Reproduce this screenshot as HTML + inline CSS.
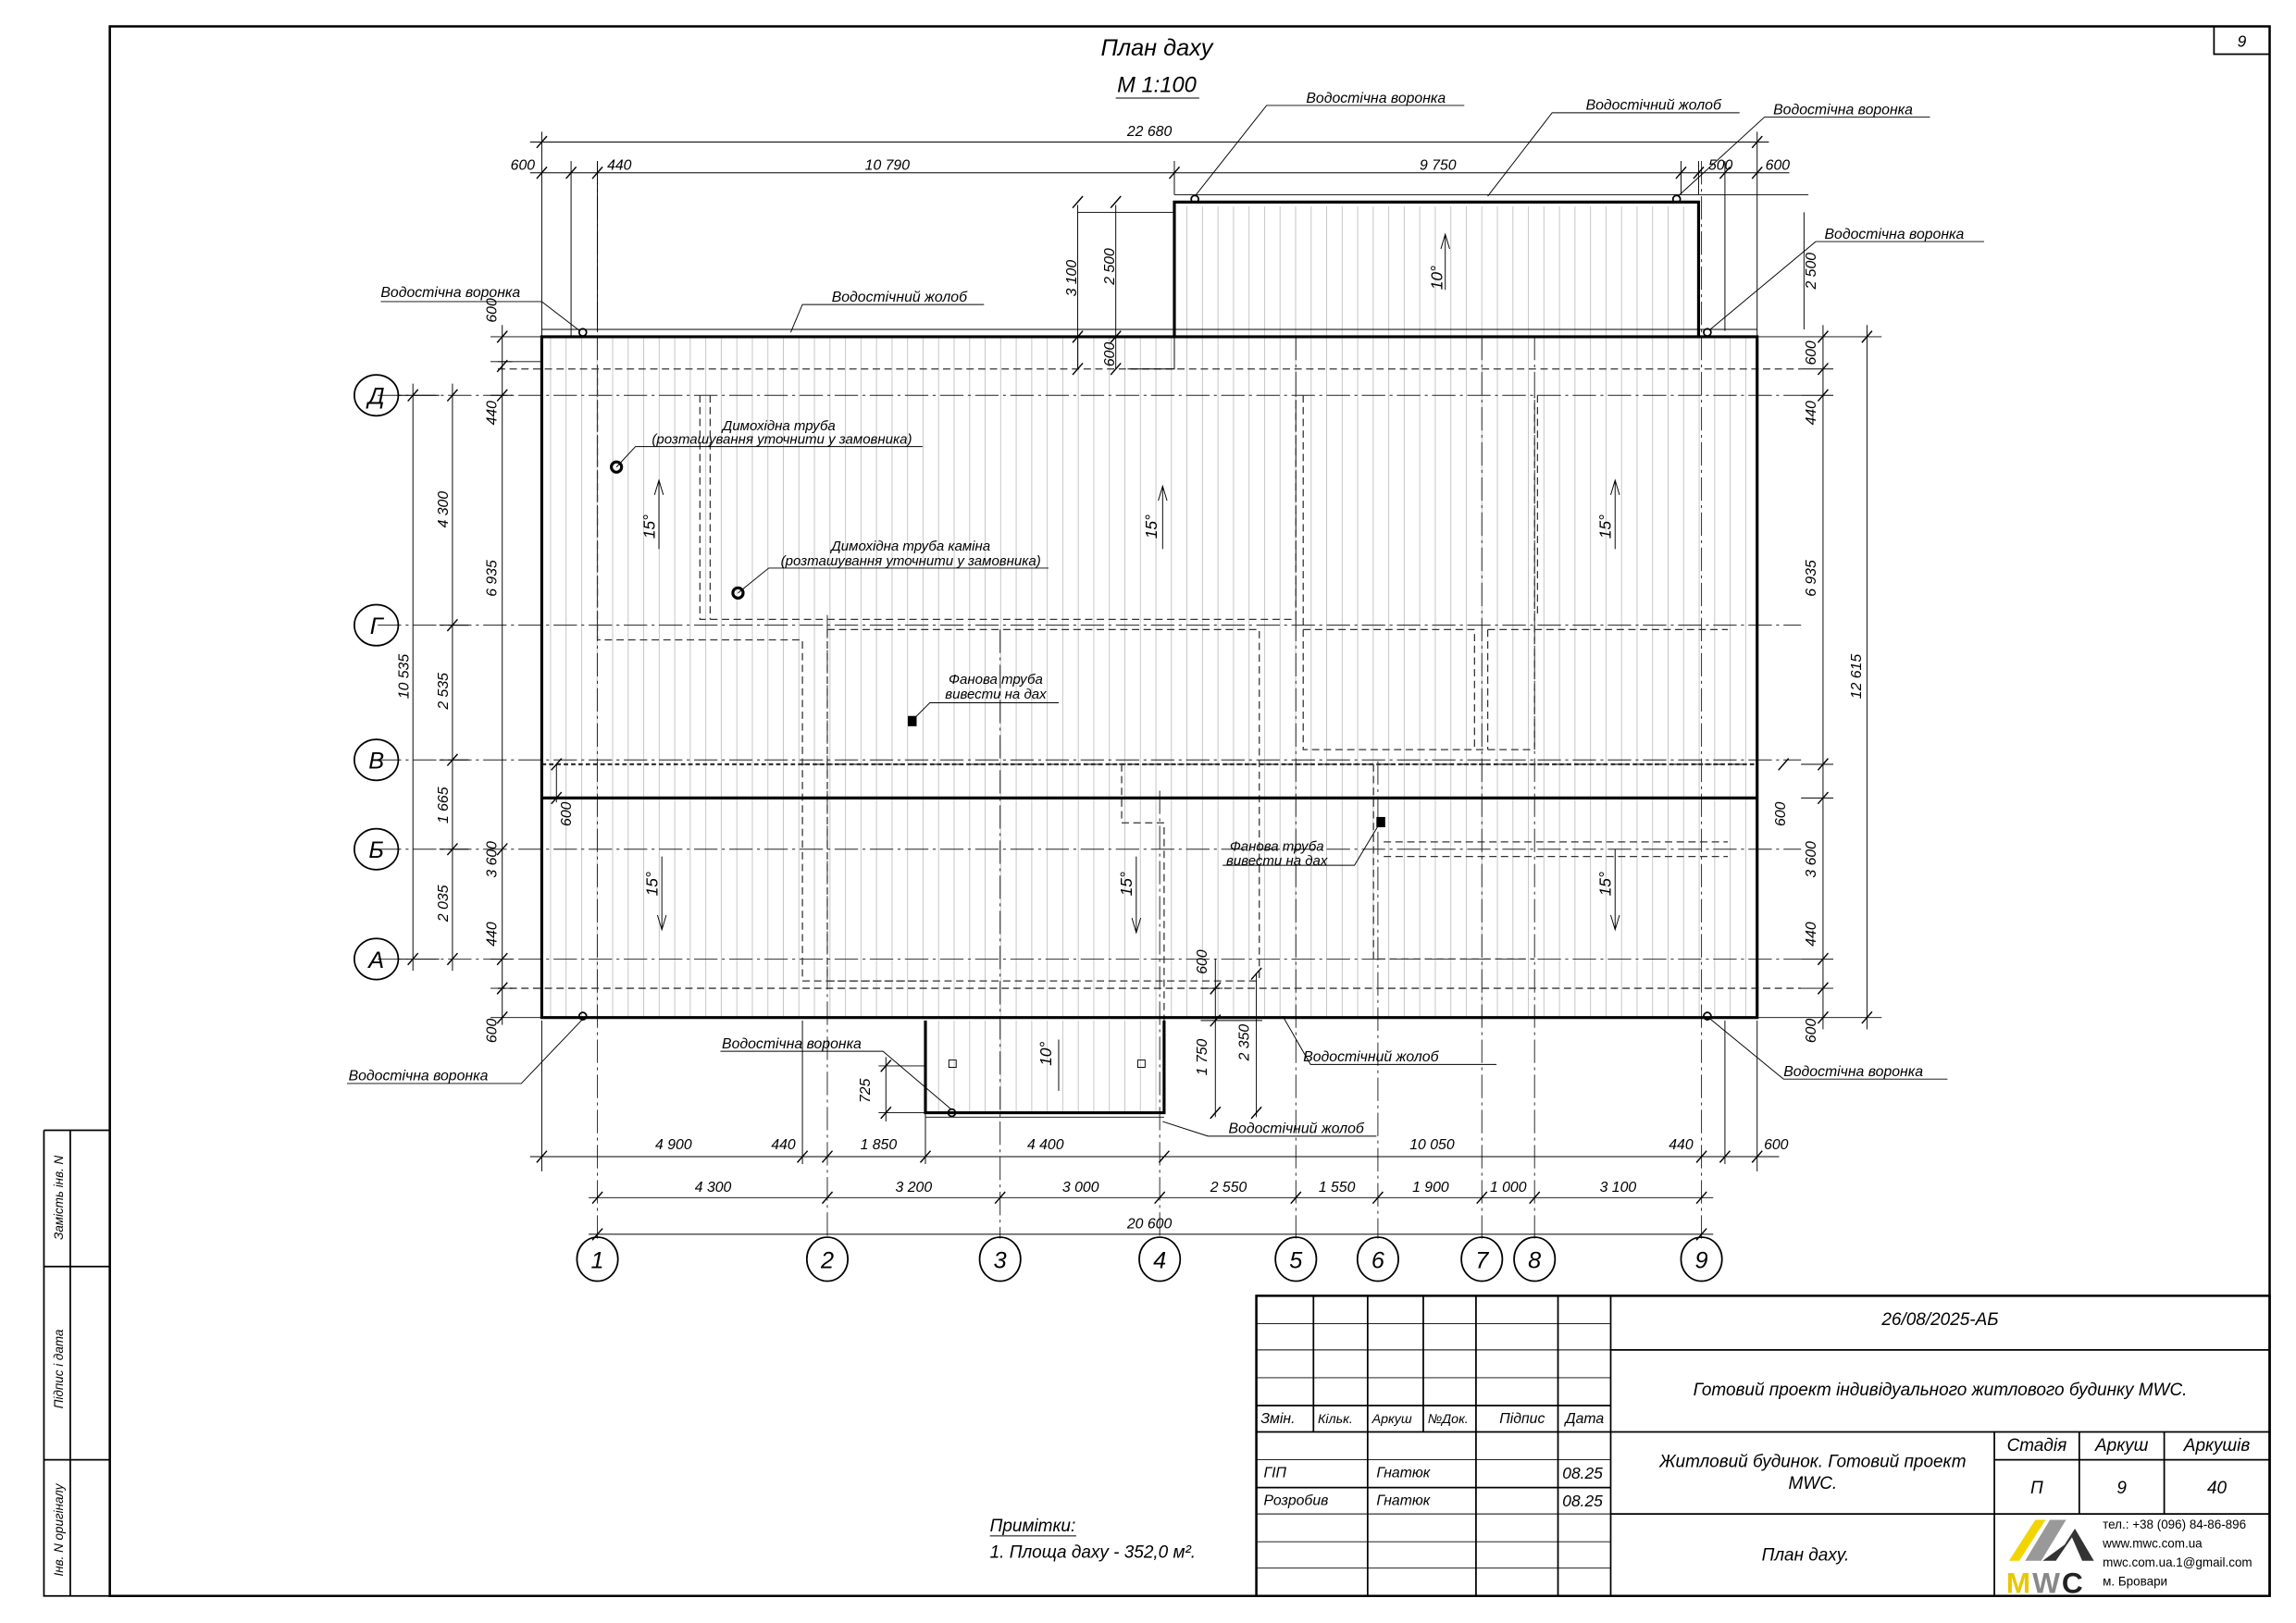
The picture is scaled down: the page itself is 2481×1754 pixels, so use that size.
<!DOCTYPE html>
<html><head><meta charset="utf-8"><style>
html,body{margin:0;padding:0;background:#fff}
svg{display:block}
text{font-family:"Liberation Sans",sans-serif;font-style:italic;fill:#000}
.t{stroke:#000;stroke-width:.6;fill:none}
.k{stroke:#000;stroke-width:2;fill:none}
.m{stroke:#000;stroke-width:1.1;fill:none}
.ax{stroke:#222;stroke-width:.6;fill:none;stroke-dasharray:16 3 2 3}
.d{stroke:#333;stroke-width:.8;fill:none;stroke-dasharray:5 3}
</style></head><body>
<svg width="2481" height="1754" viewBox="0 0 1568 1108.5" preserveAspectRatio="none" xmlns="http://www.w3.org/2000/svg">
<defs>
<pattern id="h" x="0" y="0" width="10.6" height="20" patternUnits="userSpaceOnUse"><line x1="5" y1="0" x2="5" y2="20" stroke="#c4c4c4" stroke-width=".6"/></pattern>
<path id="tk" d="M-3.5,4 L3.5,-4" stroke="#000" stroke-width=".9"/>
</defs>
<path class="k" d="M75,18 H1550 V1090 H75 Z" style="stroke-width:1.6"/>
<rect x="1512" y="18" width="38" height="19" class="m"/>
<text x="1531" y="32" font-size="11" text-anchor="middle">9</text>
<path class="m" d="M30,772 H75 M30,772 V1090 H75 M48,772 V1090 M30,865 H75 M30,997 H75"/>
<text transform="translate(43,818) rotate(-90)" font-size="8.5" text-anchor="middle">Замість інв. N</text>
<text transform="translate(43,935) rotate(-90)" font-size="8.5" text-anchor="middle">Підпис і дата</text>
<text transform="translate(43,1045) rotate(-90)" font-size="8.5" text-anchor="middle">Інв. N оригіналу</text>

<text x="790" y="38" font-size="16" text-anchor="middle">План даху</text>
<text x="790" y="63" font-size="15" text-anchor="middle">М 1:100</text>
<line class="t" x1="762" y1="67" x2="819" y2="67"/>

<rect x="371" y="231" width="828" height="463" fill="url(#h)"/>
<rect x="803" y="141" width="356" height="90" fill="url(#h)"/>
<rect x="633" y="697" width="161" height="62" fill="url(#h)"/>

<g class="ax">
<path d="M408,110 V846 M565,420 V846 M683,430 V846 M792,540 V846 M885,230 V846 M941,520 V846 M1012,230 V846 M1048,230 V846 M1162,110 V846"/>
<path d="M258,270 H1230 M258,427 H1230 M258,519 H1230 M258,580 H1230 M258,655 H1230"/>
</g>
<g class="d">
<path d="M340,252 H1230 M340,675 H1230"/>
<path d="M408,250 V437 H548 V670 H630 M478,270 V423 H885 V270 M485,270 V423"/>
<path d="M565,430 H860 V670 M565,430 V670 H860 M548,522 H1190"/>
<path d="M890,270 V512 H1048 V270 M1050,270 V420 M890,430 H1007 V512 M1016,430 H1180 M1016,430 V512"/>
<path d="M766,522 V562 H795 V697 M938,522 V655 H1048 M945,575 H1180 M945,585 H1180"/>
<path d="M370,522 H1200" style="stroke-dasharray:3 2;stroke-width:1.4"/>
</g>

<path class="k" d="M370,230 H1200 V695 H370 Z"/>
<path class="k" d="M370,545 H1200"/>
<path class="k" d="M802,230 V138 H1160 V230"/>
<path class="t" d="M802,133 H1160 M370,225 H1200 M340,247 H370 M770,252 H802 V230"/>
<path class="k" d="M632,697 V760 H795 V697"/>
<path class="t" d="M632,763 H795"/>
<g class="m" fill="#fff">
<circle cx="398" cy="227" r="2.5"/><circle cx="1166" cy="227" r="2.5"/><circle cx="816" cy="136" r="2.5"/><circle cx="1145" cy="136" r="2.5"/>
<circle cx="398" cy="694" r="2.5"/><circle cx="1166" cy="694" r="2.5"/><circle cx="650" cy="760" r="2.5"/>
</g>
<rect x="648" y="724" width="5" height="5" class="t"/><rect x="777" y="724" width="5" height="5" class="t"/>
<circle cx="421" cy="319" r="3.5" class="k"/><circle cx="504" cy="405" r="3.5" class="k"/>
<rect x="620" y="489" width="6" height="7" fill="#000"/><rect x="940" y="558" width="6" height="7" fill="#000"/>

<g class="t">
<path d="M450,375 V328 M447,338 L450,328 L453,338"/>
<path d="M794,375 V332 M791,342 L794,332 L797,342"/>
<path d="M1103,375 V328 M1100,338 L1103,328 L1106,338"/>
<path d="M452,585 V635 M449,625 L452,635 L455,625"/>
<path d="M776,585 V637 M773,627 L776,637 L779,627"/>
<path d="M1103,580 V635 M1100,625 L1103,635 L1106,625"/>
<path d="M987,198 V160 M984,170 L987,160 L990,170"/>
<path d="M723,745 V710"/>
</g>
<g font-size="11">
<text transform="translate(447,368) rotate(-90)">15°</text>
<text transform="translate(790,368) rotate(-90)">15°</text>
<text transform="translate(1100,368) rotate(-90)">15°</text>
<text transform="translate(449,612) rotate(-90)">15°</text>
<text transform="translate(773,612) rotate(-90)">15°</text>
<text transform="translate(1100,612) rotate(-90)">15°</text>
<text transform="translate(985,198) rotate(-90)">10°</text>
<text transform="translate(718,728) rotate(-90)">10°</text>
</g>

<g class="t">
<path d="M370,206 H260 M370,206 L396,226"/>
<path d="M540,227 L548,208 H672"/>
<path d="M816,134 L865,72 H1000"/>
<path d="M1016,134 L1060,77 H1188"/>
<path d="M1146,134 L1205,80 H1318"/>
<path d="M1168,225 L1240,165 H1355"/>
<path d="M398,696 L356,740 H237"/>
<path d="M650,758 L603,718 H492"/>
<path d="M1168,696 L1218,737 H1330"/>
<path d="M876,694 L895,727 H1022"/>
<path d="M794,766 L825,776 H940"/>
<path d="M421,319 L434,305 H630"/>
<path d="M504,405 L525,388 H716"/>
<path d="M623,492 L635,480 H723"/>
<path d="M943,561 L925,591 H835"/>
</g>
<g font-size="10">
<text x="260" y="203">Водостічна воронка</text>
<text x="568" y="206">Водостічний жолоб</text>
<text x="892" y="70">Водостічна воронка</text>
<text x="1083" y="75">Водостічний жолоб</text>
<text x="1211" y="78">Водостічна воронка</text>
<text x="1246" y="163">Водостічна воронка</text>
<text x="238" y="738">Водостічна воронка</text>
<text x="493" y="716">Водостічна воронка</text>
<text x="1218" y="735">Водостічна воронка</text>
<text x="890" y="725">Водостічний жолоб</text>
<text x="839" y="774">Водостічний жолоб</text>
<text x="532" y="294" font-size="9.5" text-anchor="middle">Димохідна труба</text>
<text x="534" y="303" font-size="9.5" text-anchor="middle">(розташування уточнити у замовника)</text>
<text x="622" y="376" font-size="9.5" text-anchor="middle">Димохідна труба каміна</text>
<text x="622" y="386" font-size="9.5" text-anchor="middle">(розташування уточнити у замовника)</text>
<text x="680" y="467" font-size="9.5" text-anchor="middle">Фанова труба</text>
<text x="680" y="477" font-size="9.5" text-anchor="middle">вивести на дах</text>
<text x="872" y="581" font-size="9.5" text-anchor="middle">Фанова труба</text>
<text x="872" y="591" font-size="9.5" text-anchor="middle">вивести на дах</text>
</g>

<g class="t">
<path d="M362,97 H1208 M362,118 H1222 M370,90 V230 M1200,90 V230 M390,110 V230 M408,110 V226 M802,110 V133 M1148,110 V133 M1160,110 V133 M1178,110 V226"/>
<path d="M736,145 H802 M736,140 V252 M762,140 V252 M733,230 H802"/>
<path d="M1235,133 H1160 M1232,145 V225"/>
</g>
<g>
<use href="#tk" x="370" y="97"/><use href="#tk" x="1200" y="97"/>
<use href="#tk" x="370" y="118"/><use href="#tk" x="390" y="118"/><use href="#tk" x="408" y="118"/><use href="#tk" x="802" y="118"/><use href="#tk" x="1148" y="118"/><use href="#tk" x="1160" y="118"/><use href="#tk" x="1178" y="118"/><use href="#tk" x="1200" y="118"/>
<use href="#tk" x="736" y="138"/><use href="#tk" x="736" y="230"/><use href="#tk" x="762" y="138"/><use href="#tk" x="762" y="230"/><use href="#tk" x="762" y="252"/><use href="#tk" x="736" y="252"/>
</g>
<g font-size="10" text-anchor="middle">
<text x="785" y="93">22 680</text>
<text x="357" y="116">600</text><text x="423" y="116">440</text><text x="606" y="116">10 790</text><text x="982" y="116">9 750</text><text x="1175" y="116">500</text><text x="1214" y="116">600</text>
<text transform="translate(735,190) rotate(-90)">3 100</text>
<text transform="translate(761,182) rotate(-90)">2 500</text>
<text transform="translate(761,242) rotate(-90)">600</text>
<text transform="translate(1240,185) rotate(-90)">2 500</text>
</g>

<g class="t">
<path d="M272,270 H300 M272,655 H300 M282,262 V663 M309,262 V663 M300,427 H320 M300,519 H320 M300,580 H320 M343,222 V700 M335,230 H370 M335,695 H370 M335,270 H350 M335,655 H350 M335,247 H350 M335,675 H350"/>
<path d="M380,522 V548 M370,545 H395"/>
</g>
<g>
<use href="#tk" x="282" y="270"/><use href="#tk" x="282" y="655"/>
<use href="#tk" x="309" y="270"/><use href="#tk" x="309" y="427"/><use href="#tk" x="309" y="519"/><use href="#tk" x="309" y="580"/><use href="#tk" x="309" y="655"/>
<use href="#tk" x="343" y="230"/><use href="#tk" x="343" y="250"/><use href="#tk" x="343" y="270"/><use href="#tk" x="343" y="580"/><use href="#tk" x="343" y="655"/><use href="#tk" x="343" y="675"/><use href="#tk" x="343" y="695"/>
<use href="#tk" x="380" y="522"/><use href="#tk" x="380" y="545"/>
</g>
<g font-size="10" text-anchor="middle">
<text transform="translate(279,462) rotate(-90)">10 535</text>
<text transform="translate(306,348) rotate(-90)">4 300</text>
<text transform="translate(306,472) rotate(-90)">2 535</text>
<text transform="translate(306,550) rotate(-90)">1 665</text>
<text transform="translate(306,617) rotate(-90)">2 035</text>
<text transform="translate(339,212) rotate(-90)">600</text>
<text transform="translate(339,282) rotate(-90)">440</text>
<text transform="translate(339,395) rotate(-90)">6 935</text>
<text transform="translate(339,587) rotate(-90)">3 600</text>
<text transform="translate(339,638) rotate(-90)">440</text>
<text transform="translate(339,704) rotate(-90)">600</text>
<text transform="translate(390,556) rotate(-90)">600</text>
</g>
<g class="t">
<path d="M1200,230 H1285 M1200,695 H1285 M1245,222 V703 M1275,222 V703 M1230,252 H1252 M1230,270 H1252 M1230,522 H1252 M1230,545 H1252 M1230,655 H1252 M1230,675 H1252"/>
</g>
<g>
<use href="#tk" x="1245" y="230"/><use href="#tk" x="1245" y="252"/><use href="#tk" x="1245" y="270"/><use href="#tk" x="1245" y="522"/><use href="#tk" x="1245" y="545"/><use href="#tk" x="1245" y="655"/><use href="#tk" x="1245" y="675"/><use href="#tk" x="1245" y="695"/>
<use href="#tk" x="1275" y="230"/><use href="#tk" x="1275" y="695"/>
<use href="#tk" x="1218" y="522"/>
</g>
<g font-size="10" text-anchor="middle">
<text transform="translate(1240,241) rotate(-90)">600</text>
<text transform="translate(1240,282) rotate(-90)">440</text>
<text transform="translate(1240,395) rotate(-90)">6 935</text>
<text transform="translate(1219,556) rotate(-90)">600</text>
<text transform="translate(1240,587) rotate(-90)">3 600</text>
<text transform="translate(1240,638) rotate(-90)">440</text>
<text transform="translate(1240,704) rotate(-90)">600</text>
<text transform="translate(1271,462) rotate(-90)">12 615</text>
<text transform="translate(824,657) rotate(-90)">600</text>
<text transform="translate(824,722) rotate(-90)">1 750</text>
<text transform="translate(853,712) rotate(-90)">2 350</text>
<text transform="translate(594,745) rotate(-90)">725</text>
</g>
<g class="t"><path d="M830,655 V763 M858,665 V763 M820,675 H835 M820,697 H862 M600,728 H632 M600,760 H632 M605,722 V766"/></g>
<g><use href="#tk" x="830" y="675"/><use href="#tk" x="830" y="697"/><use href="#tk" x="830" y="760"/><use href="#tk" x="858" y="665"/><use href="#tk" x="858" y="760"/><use href="#tk" x="605" y="728"/><use href="#tk" x="605" y="760"/></g>

<g class="t">
<path d="M362,790 H1215 M402,818 H1170 M402,843 H1170 M370,697 V800 M1200,697 V800 M548,697 V795 M632,760 V795 M1178,697 V795"/>
</g>
<g>
<use href="#tk" x="370" y="790"/><use href="#tk" x="548" y="790"/><use href="#tk" x="565" y="790"/><use href="#tk" x="632" y="790"/><use href="#tk" x="795" y="790"/><use href="#tk" x="1162" y="790"/><use href="#tk" x="1178" y="790"/><use href="#tk" x="1200" y="790"/>
<use href="#tk" x="408" y="818"/><use href="#tk" x="565" y="818"/><use href="#tk" x="683" y="818"/><use href="#tk" x="792" y="818"/><use href="#tk" x="885" y="818"/><use href="#tk" x="941" y="818"/><use href="#tk" x="1012" y="818"/><use href="#tk" x="1048" y="818"/><use href="#tk" x="1162" y="818"/>
<use href="#tk" x="408" y="843"/><use href="#tk" x="1162" y="843"/>
</g>
<g font-size="10" text-anchor="middle">
<text x="460" y="785">4 900</text><text x="535" y="785">440</text><text x="600" y="785">1 850</text><text x="714" y="785">4 400</text><text x="978" y="785">10 050</text><text x="1148" y="785">440</text><text x="1213" y="785">600</text>
<text x="487" y="814">4 300</text><text x="624" y="814">3 200</text><text x="738" y="814">3 000</text><text x="839" y="814">2 550</text><text x="913" y="814">1 550</text><text x="977" y="814">1 900</text><text x="1030" y="814">1 000</text><text x="1105" y="814">3 100</text>
<text x="785" y="839">20 600</text>
</g>

<g class="m" fill="#fff">
<ellipse cx="408" cy="860" rx="14" ry="15"/><ellipse cx="565" cy="860" rx="14" ry="15"/><ellipse cx="683" cy="860" rx="14" ry="15"/><ellipse cx="792" cy="860" rx="14" ry="15"/><ellipse cx="885" cy="860" rx="14" ry="15"/><ellipse cx="941" cy="860" rx="14" ry="15"/><ellipse cx="1012" cy="860" rx="14" ry="15"/><ellipse cx="1048" cy="860" rx="14" ry="15"/><ellipse cx="1162" cy="860" rx="14" ry="15"/>
<ellipse cx="257" cy="270" rx="15" ry="14"/><ellipse cx="257" cy="427" rx="15" ry="14"/><ellipse cx="257" cy="519" rx="15" ry="14"/><ellipse cx="257" cy="580" rx="15" ry="14"/><ellipse cx="257" cy="655" rx="15" ry="14"/>
</g>
<g font-size="16" text-anchor="middle">
<text x="408" y="866">1</text><text x="565" y="866">2</text><text x="683" y="866">3</text><text x="792" y="866">4</text><text x="885" y="866">5</text><text x="941" y="866">6</text><text x="1012" y="866">7</text><text x="1048" y="866">8</text><text x="1162" y="866">9</text>
<text x="257" y="276">Д</text><text x="257" y="433">Г</text><text x="257" y="525">В</text><text x="257" y="586">Б</text><text x="257" y="661">А</text>
</g>

<text x="676" y="1046" font-size="12">Примітки:</text>
<line class="t" x1="676" y1="1049" x2="735" y2="1049"/>
<text x="676" y="1064" font-size="12">1. Площа даху - 352,0 м².</text>

<path class="k" d="M858,885 H1550 V1090 H858 Z" style="stroke-width:1.6"/>
<path class="t" d="M858,904 H1100 M858,922 H1100 M858,941 H1100 M858,1034 H1100 M858,1053 H1100 M858,1071 H1100 M858,997 H1100" />
<path class="m" d="M858,960 H1100 M858,978 H1100 M858,1016 H1100"/>
<path class="m" d="M897,885 V978 M934,885 V1090 M972,885 V978 M1008,885 V1090 M1064,885 V1090 M1100,885 V1090"/>
<path class="m" d="M1100,922 H1550 M1100,978 H1550 M1100,1034 H1550 M1362,978 V1090 M1420,978 V1034 M1478,978 V1034 M1362,997 H1550"/>
<g font-size="10">
<text x="861" y="972">Змін.</text><text x="900" y="972" font-size="9">Кільк.</text><text x="937" y="972" font-size="9">Аркуш</text><text x="975" y="972" font-size="9">№Док.</text><text x="1024" y="972">Підпис</text><text x="1069" y="972">Дата</text>
<text x="863" y="1009">ГІП</text><text x="863" y="1028">Розробив</text><text x="940" y="1009">Гнатюк</text><text x="940" y="1028">Гнатюк</text><text x="1067" y="1010" font-size="11">08.25</text><text x="1067" y="1029" font-size="11">08.25</text>
</g>
<g font-size="12" text-anchor="middle">
<text x="1325" y="905">26/08/2025-АБ</text>
<text x="1325" y="953">Готовий проект індивідуального житлового будинку MWC.</text>
<text x="1238" y="1002">Житловий будинок. Готовий проект</text>
<text x="1238" y="1017">MWC.</text>
<text x="1233" y="1066">План даху.</text>
<text x="1391" y="991">Стадія</text><text x="1449" y="991">Аркуш</text><text x="1514" y="991">Аркушів</text>
<text x="1391" y="1020">П</text><text x="1449" y="1020">9</text><text x="1514" y="1020">40</text>
</g>
<polygon points="1372,1066 1379,1066 1397,1038 1390,1038" fill="#f2d500"/>
<polygon points="1383,1066 1394,1066 1411,1038 1400,1038" fill="#999"/>
<polygon points="1395,1066 1404,1066 1415,1050 1422,1066 1430,1066 1417,1044 1410,1055" fill="#333"/>
<text x="1370" y="1088" font-size="20" font-weight="bold" style="fill:#e8c800;font-style:normal;font-weight:bold">M</text>
<text x="1388" y="1088" font-size="20" style="fill:#888;font-style:normal;font-weight:bold">W</text>
<text x="1408" y="1088" font-size="20" style="fill:#222;font-style:normal;font-weight:bold">C</text>
<g font-size="8.5">
<text x="1436" y="1044" style="font-style:normal">тел.: +38 (096) 84-86-896</text>
<text x="1436" y="1057" style="font-style:normal">www.mwc.com.ua</text>
<text x="1436" y="1070" style="font-style:normal">mwc.com.ua.1@gmail.com</text>
<text x="1436" y="1083" style="font-style:normal">м. Бровари</text>
</g>
</svg>
</body></html>
